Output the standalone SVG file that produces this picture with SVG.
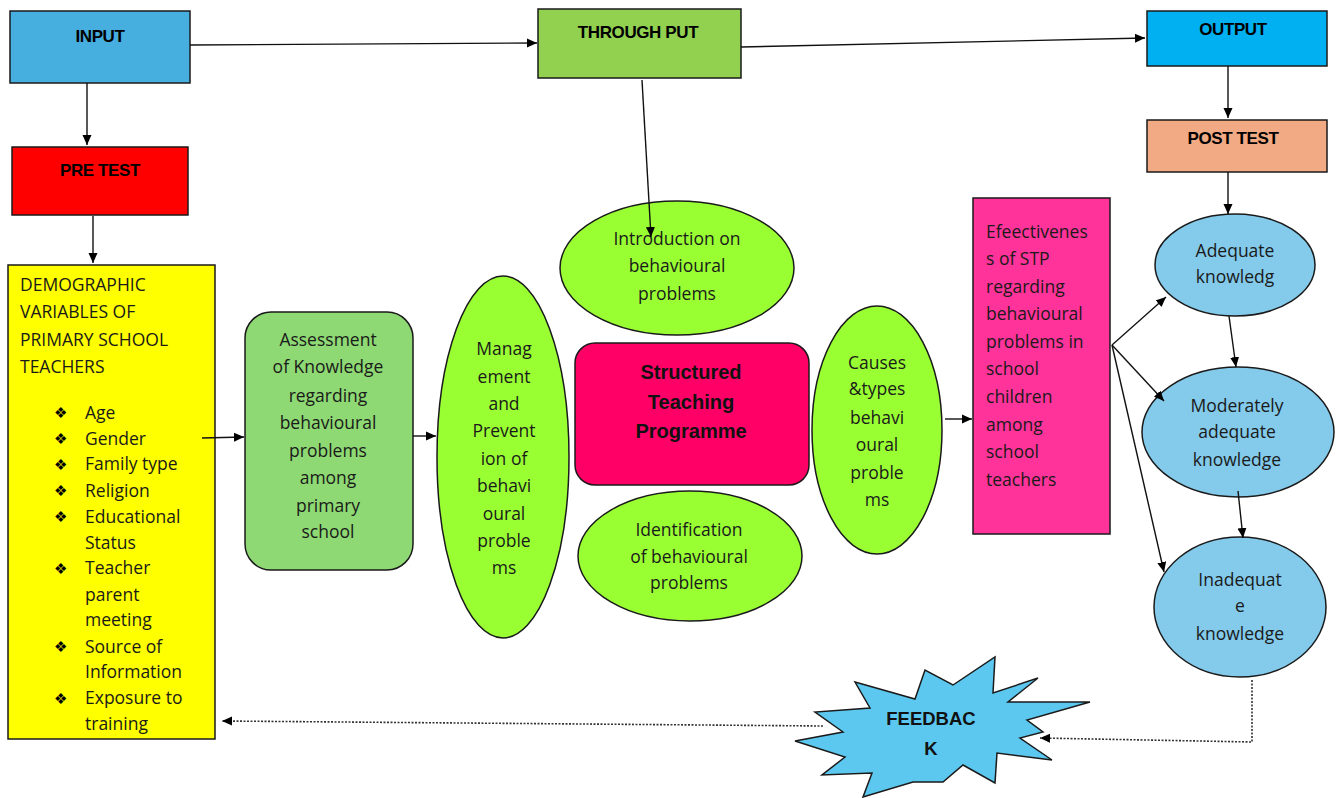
<svg xmlns="http://www.w3.org/2000/svg" width="1341" height="798" viewBox="0 0 1341 798">
<style>
.box{stroke:#1a1a1a;stroke-width:1.5}
.hd{font-family:"Liberation Sans",Arial,sans-serif;font-weight:bold;font-size:17px;fill:#000;text-anchor:middle;letter-spacing:-0.4px}
.tx{font-family:"Open Sans","Liberation Sans",sans-serif;font-size:17.5px;fill:#1a1a1a;text-anchor:middle}
.tl{font-family:"Open Sans","Liberation Sans",sans-serif;font-size:17.5px;fill:#1a1a1a}
.bul{font-family:"DejaVu Sans",sans-serif;font-size:15px;fill:#000}
.big{font-family:"Liberation Sans",Arial,sans-serif;font-weight:bold;font-size:20px;fill:#111;text-anchor:middle}
.con{fill:none;stroke:#111;stroke-width:1.4}
.dot{fill:none;stroke:#333;stroke-width:1.6;stroke-dasharray:2 1.5}
.green{fill:#99FF33}
.blue{fill:#83CAEB}
</style>
<defs>
<marker id="arr" viewBox="0 0 10 10" refX="10" refY="5" markerWidth="10" markerHeight="10" orient="auto" markerUnits="userSpaceOnUse">
<path d="M0,0.5 L10,5 L0,9.5 z" fill="#000"/>
</marker>
<clipPath id="yclip"><rect x="8" y="266" width="206" height="470"/></clipPath>
</defs>

<g id="input"><rect class="box" x="10" y="11" width="180" height="72" fill="#47AEE0"/><text class="hd" x="100" y="42">INPUT</text></g>
<g id="throughput"><rect class="box" x="538" y="9" width="203" height="69" fill="#92D050"/><text class="hd" x="638" y="38">THROUGH PUT</text></g>
<g id="output"><rect class="box" x="1147" y="11" width="180" height="55" fill="#00B0F0"/><text class="hd" x="1233" y="35">OUTPUT</text></g>
<g id="posttest"><rect class="box" x="1147" y="120" width="180" height="52" fill="#F2AA84"/><text class="hd" x="1233" y="144">POST TEST</text></g>
<g id="pretest"><rect class="box" x="12" y="147" width="176" height="68" fill="#FF0000"/><text class="hd" x="100" y="176">PRE TEST</text></g>

<g id="demographic">
<rect class="box" x="8" y="265" width="207" height="474" fill="#FFFF00"/>
<g clip-path="url(#yclip)">
<text class="tl" x="20" y="291">DEMOGRAPHIC</text>
<text class="tl" x="20" y="318">VARIABLES OF</text>
<text class="tl" x="20" y="346">PRIMARY SCHOOL</text>
<text class="tl" x="20" y="373">TEACHERS</text>
<g class="bul">
<text x="54" y="418">❖</text><text x="54" y="444">❖</text><text x="54" y="470">❖</text><text x="54" y="496">❖</text><text x="54" y="522">❖</text><text x="54" y="574">❖</text><text x="54" y="652">❖</text><text x="54" y="704">❖</text>
</g>
<text class="tl" x="85" y="419">Age</text>
<text class="tl" x="85" y="445">Gender</text>
<text class="tl" x="85" y="470">Family type</text>
<text class="tl" x="85" y="497">Religion</text>
<text class="tl" x="85" y="523">Educational</text>
<text class="tl" x="85" y="549">Status</text>
<text class="tl" x="85" y="574">Teacher</text>
<text class="tl" x="85" y="601">parent</text>
<text class="tl" x="85" y="626">meeting</text>
<text class="tl" x="85" y="653">Source of</text>
<text class="tl" x="85" y="678">Information</text>
<text class="tl" x="85" y="704">Exposure to</text>
<text class="tl" x="85" y="730">training</text>
</g>
</g>

<g id="assessment">
<rect class="box" x="245" y="312" width="168" height="258" rx="26" fill="#8ED973"/>
<text class="tx" x="328" y="346">Assessment</text>
<text class="tx" x="328" y="373">of Knowledge</text>
<text class="tx" x="328" y="402">regarding</text>
<text class="tx" x="328" y="429">behavioural</text>
<text class="tx" x="328" y="457">problems</text>
<text class="tx" x="328" y="484">among</text>
<text class="tx" x="328" y="512">primary</text>
<text class="tx" x="328" y="538">school</text>
</g>

<g id="management">
<ellipse class="box green" cx="503" cy="457" rx="66" ry="181"/>
<text class="tx" x="504" y="355">Manag</text>
<text class="tx" x="504" y="383">ement</text>
<text class="tx" x="504" y="410">and</text>
<text class="tx" x="504" y="437">Prevent</text>
<text class="tx" x="504" y="465">ion of</text>
<text class="tx" x="504" y="492">behavi</text>
<text class="tx" x="504" y="520">oural</text>
<text class="tx" x="504" y="547">proble</text>
<text class="tx" x="504" y="574">ms</text>
</g>

<g id="introduction">
<ellipse class="box green" cx="677" cy="268" rx="117" ry="67"/>
<text class="tx" x="677" y="245">Introduction on</text>
<text class="tx" x="677" y="272">behavioural</text>
<text class="tx" x="677" y="300">problems</text>
</g>

<g id="stp">
<rect class="box" x="575" y="343" width="234" height="142" rx="20" fill="#FF0066"/>
<text class="big" x="691" y="379">Structured</text>
<text class="big" x="691" y="409">Teaching</text>
<text class="big" x="691" y="438">Programme</text>
</g>

<g id="identification">
<ellipse class="box green" cx="690" cy="556" rx="112" ry="65"/>
<text class="tx" x="689" y="536">Identification</text>
<text class="tx" x="689" y="563">of behavioural</text>
<text class="tx" x="689" y="589">problems</text>
</g>

<g id="causes">
<ellipse class="box green" cx="877" cy="430" rx="65" ry="124"/>
<text class="tx" x="877" y="369">Causes</text>
<text class="tx" x="877" y="395">&amp;types</text>
<text class="tx" x="877" y="424">behavi</text>
<text class="tx" x="877" y="451">oural</text>
<text class="tx" x="877" y="479">proble</text>
<text class="tx" x="877" y="506">ms</text>
</g>

<g id="effectiveness">
<rect class="box" x="973" y="198" width="137" height="336" fill="#FF3399"/>
<text class="tl" x="986" y="238">Efeectivenes</text>
<text class="tl" x="986" y="265">s of STP</text>
<text class="tl" x="986" y="293">regarding</text>
<text class="tl" x="986" y="320">behavioural</text>
<text class="tl" x="986" y="348">problems in</text>
<text class="tl" x="986" y="375">school</text>
<text class="tl" x="986" y="403">children</text>
<text class="tl" x="986" y="431">among</text>
<text class="tl" x="986" y="458">school</text>
<text class="tl" x="986" y="486">teachers</text>
</g>

<g id="adequate">
<ellipse class="box blue" cx="1235" cy="265" rx="80" ry="51"/>
<text class="tx" x="1235" y="257">Adequate</text>
<text class="tx" x="1235" y="283">knowledg</text>
</g>

<g id="moderately">
<ellipse class="box blue" cx="1238" cy="432" rx="96" ry="65"/>
<text class="tx" x="1237" y="412">Moderately</text>
<text class="tx" x="1237" y="438">adequate</text>
<text class="tx" x="1237" y="466">knowledge</text>
</g>

<g id="inadequate">
<ellipse class="box blue" cx="1240" cy="607" rx="86" ry="70"/>
<text class="tx" x="1240" y="586">Inadequat</text>
<text class="tx" x="1240" y="612">e</text>
<text class="tx" x="1240" y="640">knowledge</text>
</g>

<g id="feedback">
<polygon class="box" fill="#5CC8F0" points="855,682 915,699 925,670 953,685 995,657 993,693 1038,678 1008,702 1090,702 1027,720 1043,732 1020,738 1052,760 997,753 995,783 963,765 943,782 913,782 863,797 872,773 822,775 845,757 795,741 843,732 815,712 870,708"/>
<text class="big" style="font-size:18.5px" x="931" y="725">FEEDBAC</text>
<text class="big" style="font-size:18.5px" x="931" y="755">K</text>
</g>

<g id="connectors">
<path class="con" d="M190,45 L537,43" marker-end="url(#arr)"/>
<path class="con" d="M741,47 L1145,38" marker-end="url(#arr)"/>
<path class="con" d="M87,83 L87,145" marker-end="url(#arr)"/>
<path class="con" d="M93,216 L93,263" marker-end="url(#arr)"/>
<path class="con" d="M642,80 L651,237" marker-end="url(#arr)"/>
<path class="con" d="M1228,66 L1228,118" marker-end="url(#arr)"/>
<path class="con" d="M1228,172 L1228,214" marker-end="url(#arr)"/>
<path class="con" d="M202,438 L244,437" marker-end="url(#arr)"/>
<path class="con" d="M413,436 L436,436" marker-end="url(#arr)"/>
<path class="con" d="M945,419 L972,419" marker-end="url(#arr)"/>
<path class="con" d="M1112,345 L1166,297" marker-end="url(#arr)"/>
<path class="con" d="M1112,345 L1164,401" marker-end="url(#arr)"/>
<path class="con" d="M1112,345 L1164,572" marker-end="url(#arr)"/>
<path class="con" d="M1229,316 L1236,367" marker-end="url(#arr)"/>
<path class="con" d="M1238,491 L1243,538" marker-end="url(#arr)"/>
<path class="dot" d="M1252,680 L1252,742 L1040,738" marker-end="url(#arr)"/>
<path class="dot" d="M823,726 L222,721" marker-end="url(#arr)"/>
</g>
</svg>
